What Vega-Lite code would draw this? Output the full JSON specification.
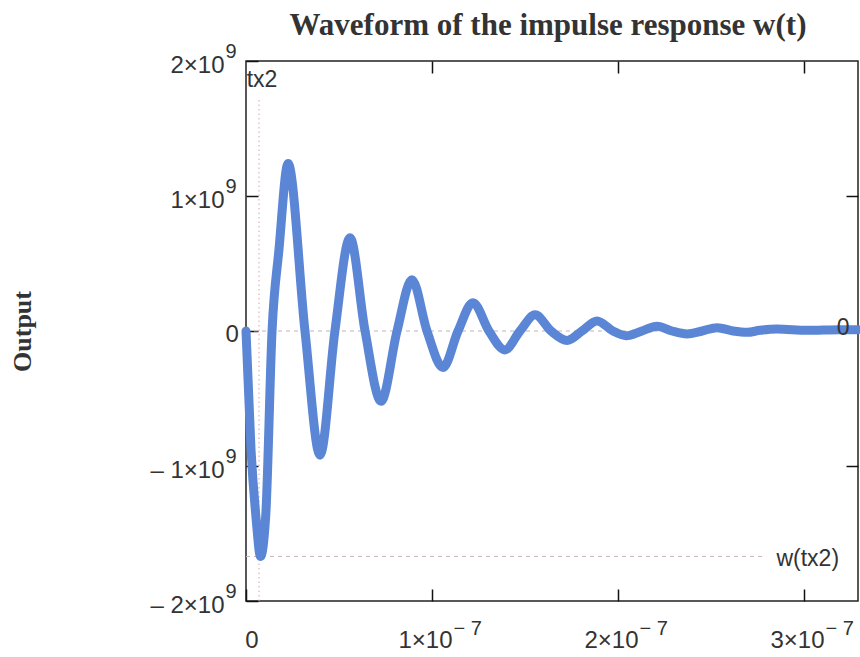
{
  "$schema": "https://vega.github.io/schema/vega-lite/v6.json",
  "width": 612,
  "height": 540,
  "autosize": "none",
  "padding": {"left": 246, "top": 61, "right": 2, "bottom": 56},
  "background": "white",
  "title": {
    "text": "Waveform of the impulse response w(t)",
    "font": "Liberation Serif",
    "fontWeight": "bold",
    "fontSize": 31,
    "color": "#333333",
    "anchor": "middle",
    "dx": -4,
    "offset": -1
  },
  "config": {
    "view": {"stroke": "#222222", "strokeWidth": 1.5},
    "axis": {"grid": false, "domain": false}
  },
  "datasets": {
    "wave": [
      {"t": 0, "w": 0},
      {"t": 2.7e-9, "w": -880000000},
      {"t": 5.5e-9, "w": -1400000000},
      {"t": 7.8e-9, "w": -1670000000},
      {"t": 10.6e-9, "w": -1370000000},
      {"t": 14.0e-9, "w": 0},
      {"t": 17.7e-9, "w": 600000000},
      {"t": 22.6e-9, "w": 1240000000},
      {"t": 31.7e-9, "w": 0},
      {"t": 39.8e-9, "w": -920000000},
      {"t": 47.8e-9, "w": 0},
      {"t": 55.9e-9, "w": 690000000},
      {"t": 64.0e-9, "w": 0},
      {"t": 72.6e-9, "w": -520000000},
      {"t": 81.2e-9, "w": 0},
      {"t": 89.2e-9, "w": 380000000},
      {"t": 97.3e-9, "w": 0},
      {"t": 105.9e-9, "w": -270000000},
      {"t": 114.0e-9, "w": 0},
      {"t": 122.0e-9, "w": 210000000},
      {"t": 130.6e-9, "w": 0},
      {"t": 139.2e-9, "w": -140000000},
      {"t": 147.3e-9, "w": 0},
      {"t": 155.4e-9, "w": 120000000},
      {"t": 164.0e-9, "w": 0},
      {"t": 172.6e-9, "w": -70000000},
      {"t": 180.6e-9, "w": 0},
      {"t": 188.7e-9, "w": 75000000},
      {"t": 197.3e-9, "w": 0},
      {"t": 204.3e-9, "w": -35000000},
      {"t": 212.9e-9, "w": 0},
      {"t": 221.0e-9, "w": 36000000},
      {"t": 229.0e-9, "w": 0},
      {"t": 237.1e-9, "w": -22000000},
      {"t": 245.2e-9, "w": 0},
      {"t": 253.2e-9, "w": 25000000},
      {"t": 261.8e-9, "w": 0},
      {"t": 269.4e-9, "w": -10000000},
      {"t": 276.3e-9, "w": 5000000},
      {"t": 285.5e-9, "w": 15000000},
      {"t": 301.6e-9, "w": 5000000},
      {"t": 319.4e-9, "w": 10000000},
      {"t": 329.0e-9, "w": 10000000}
    ],
    "zero": [{"t0": 0, "t1": 315.6e-9, "w": 0}],
    "wmin": [{"t0": 0, "t1": 279.6e-9, "w": -1670000000}],
    "tx2": [{"t": 7.0e-9, "w0": -2000000000, "w1": 1730000000}],
    "labels": [
      {"t": 8.6e-9, "w": 1860000000, "text": "tx2"},
      {"t": 302e-9, "w": -1690000000, "text": "w(tx2)"},
      {"t": 321e-9, "w": 20000000, "text": "0"}
    ]
  },
  "layer": [
    {
      "data": {"name": "zero"},
      "mark": {"type": "rule", "color": "#bdb3b8", "strokeWidth": 1, "strokeDash": [4, 4]},
      "encoding": {
        "x": {"field": "t0", "type": "quantitative", "scale": {"domain": [0, 3.29e-7], "nice": false, "zero": false},
          "axis": {"orient": "top", "values": [1e-7, 2e-7, 3e-7], "labels": false, "title": null, "tickSize": -12, "tickColor": "#111111", "tickWidth": 1.5}},
        "x2": {"field": "t1"},
        "y": {"field": "w", "type": "quantitative", "scale": {"domain": [-2000000000, 2000000000], "nice": false},
          "axis": {"orient": "right", "values": [-1000000000, 0, 1000000000], "labels": false, "title": null, "tickSize": -12, "tickColor": "#111111", "tickWidth": 1.5}}
      }
    },
    {
      "data": {"name": "wmin"},
      "mark": {"type": "rule", "color": "#c4b6bb", "strokeWidth": 1, "strokeDash": [4, 4]},
      "encoding": {
        "x": {"field": "t0", "type": "quantitative", "scale": {"domain": [0, 3.29e-7], "nice": false, "zero": false},
          "axis": {"orient": "bottom", "values": [1e-7, 2e-7, 3e-7], "ticks": false, "title": null,
            "labelExpr": "'− 7'",
            "labelFont": "Liberation Sans", "labelFontSize": 20, "labelColor": "#333333",
            "labelAlign": "left", "labelBaseline": "middle", "labelOffset": 21, "labelPadding": 27}},
        "x2": {"field": "t1"},
        "y": {"field": "w", "type": "quantitative", "scale": {"domain": [-2000000000, 2000000000], "nice": false},
          "axis": {"orient": "left", "values": [-2000000000, -1000000000, 0, 1000000000, 2000000000], "ticks": false, "title": null,
            "labelExpr": "datum.value == 0 ? '0' : '9'",
            "labelFont": "Liberation Sans", "labelColor": "#333333",
            "labelFontSize": {"condition": {"test": "datum.value == 0", "value": 24}, "value": 20},
            "labelOffset": {"condition": {"test": "datum.value == 0", "value": 3}, "value": -10},
            "labelAlign": "left", "labelBaseline": "middle", "labelPadding": 21}}
      }
    },
    {
      "data": {"name": "tx2"},
      "mark": {"type": "rule", "color": "#dba3ad", "strokeWidth": 1, "strokeDash": [1.5, 3]},
      "encoding": {
        "x": {"field": "t", "type": "quantitative", "scale": {"domain": [0, 3.29e-7], "nice": false, "zero": false}, "axis": null},
        "y": {"field": "w0", "type": "quantitative", "scale": {"domain": [-2000000000, 2000000000], "nice": false}, "axis": null},
        "y2": {"field": "w1"}
      }
    },
    {
      "data": {"name": "wave"},
      "mark": {"type": "line", "color": "#5a86d5", "strokeWidth": 9, "strokeCap": "round", "strokeJoin": "round", "interpolate": "monotone"},
      "encoding": {
        "x": {"field": "t", "type": "quantitative", "scale": {"domain": [0, 3.29e-7], "nice": false, "zero": false},
          "axis": {"orient": "bottom", "values": [0, 1e-7, 2e-7, 3e-7], "title": null,
            "tickSize": -12, "tickColor": "#111111", "tickWidth": 1.5,
            "labelExpr": "datum.value == 0 ? '0' : round(datum.value * 1e7) + '×10'",
            "labelFont": "Liberation Sans", "labelFontSize": 24, "labelColor": "#333333",
            "labelAlign": "right", "labelBaseline": "middle",
            "labelOffset": {"condition": {"test": "datum.value == 0", "value": 12}, "value": 20},
            "labelPadding": 51}},
        "y": {"field": "w", "type": "quantitative", "scale": {"domain": [-2000000000, 2000000000], "nice": false},
          "axis": {"orient": "left", "values": [-2000000000, -1000000000, 0, 1000000000, 2000000000],
            "tickSize": -12, "tickColor": "#111111", "tickWidth": 1.5,
            "labelExpr": "datum.value == 0 ? '' : (datum.value < 0 ? '– ' : '') + abs(round(datum.value / 1e9)) + '×10'",
            "labelFont": "Liberation Sans", "labelFontSize": 24, "labelColor": "#333333",
            "labelAlign": "right", "labelBaseline": "middle", "labelOffset": 4, "labelPadding": 34,
            "title": "Output", "titleFont": "Liberation Serif", "titleFontWeight": "bold", "titleFontSize": 26,
            "titleColor": "#333333", "titleX": -224, "titleY": 270, "titleAngle": -90, "titleAlign": "center", "titleBaseline": "middle"}}
      }
    },
    {
      "data": {"name": "labels"},
      "mark": {"type": "text", "font": "Liberation Sans", "fontSize": 23, "color": "#333333", "align": "center", "baseline": "middle"},
      "encoding": {
        "x": {"field": "t", "type": "quantitative", "scale": {"domain": [0, 3.29e-7], "nice": false, "zero": false}, "axis": null},
        "y": {"field": "w", "type": "quantitative", "scale": {"domain": [-2000000000, 2000000000], "nice": false}, "axis": null},
        "text": {"field": "text"}
      }
    }
  ],
  "resolve": {"axis": {"x": "independent", "y": "independent"}}
}
